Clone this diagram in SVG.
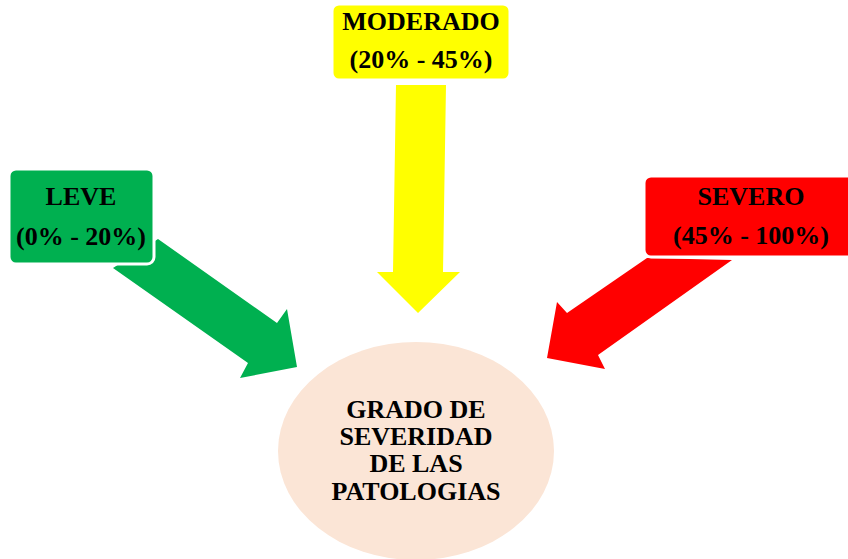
<svg xmlns="http://www.w3.org/2000/svg" width="848" height="559" viewBox="0 0 848 559">
<style>
.lbl{font-family:"Liberation Serif","Times New Roman",serif;font-weight:bold;font-size:26px;fill:#000;text-anchor:middle}
.box{stroke:#fff;stroke-width:3}
</style>
<rect width="848" height="559" fill="#fff"/>
<g id="connectors">
<polygon fill="#00B050" points="113,268 158,239 277,323 287,309 297,367 240,378 248,363"/>
<polygon fill="#FFFF00" points="396,85 446,85 443,272 460,272 418,313 377,272 393,272"/>
<polygon fill="#FF0000" points="647,258 732,260 598,355 605,369 547,358 557,302 567,313"/>
</g>
<g id="leve">
<rect class="box" x="9" y="169" width="145" height="95" rx="7" fill="#00B050"/>
<text class="lbl" x="81" y="205">LEVE</text>
<text class="lbl" x="81" y="245">(0% - 20%)</text>
</g>
<g id="moderado">
<rect class="box" x="332" y="4" width="178" height="76" rx="7" fill="#FFFF00"/>
<text class="lbl" x="421" y="30">MODERADO</text>
<text class="lbl" x="421" y="68">(20% - 45%)</text>
</g>
<g id="severo">
<rect class="box" x="644" y="176" width="214" height="81" rx="7" fill="#FF0000"/>
<text class="lbl" x="751" y="205">SEVERO</text>
<text class="lbl" x="751" y="244">(45% - 100%)</text>
</g>
<g id="grado">
<ellipse cx="416" cy="451" rx="138" ry="109" fill="#FBE5D6"/>
<text class="lbl" x="416" y="418">GRADO DE</text>
<text class="lbl" x="416" y="445">SEVERIDAD</text>
<text class="lbl" x="416" y="472">DE LAS</text>
<text class="lbl" x="416" y="500">PATOLOGIAS</text>
</g>
</svg>
